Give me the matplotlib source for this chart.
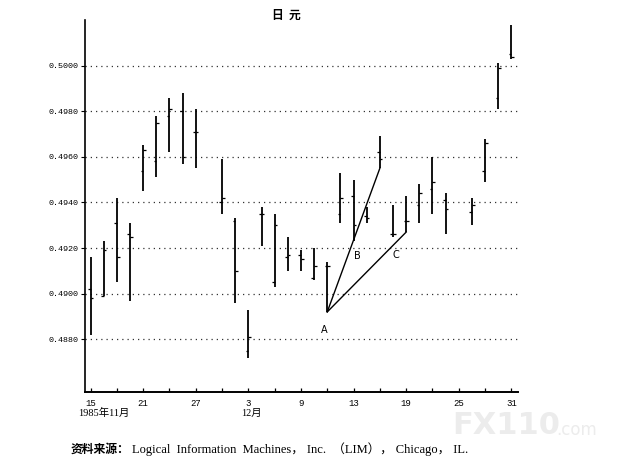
import numpy as np
import matplotlib.pyplot as plt

# trading-day slots (index along the x axis); 28 Nov and 25 Dec have no bar
tick_slots = [0, 4, 8, 12, 16, 20, 24, 28, 32]
tick_labels = ['15', '21', '27', '3', '9', '13', '19', '25', '31']

bar_slot = [0, 1, 2, 3, 4, 5, 6, 7, 8, 10, 11, 12, 13, 14, 15, 16,
            17, 18, 19, 20, 21, 22, 23, 24, 25, 26, 27, 29, 30, 31, 32]
highs = [4916, 4923, 4942, 4931, 4965, 4978, 4986, 4988, 4981, 4959, 4933,
         4893, 4938, 4935, 4925, 4919, 4920, 4914, 4953, 4950, 4938, 4969,
         4939, 4943, 4948, 4960, 4944, 4942, 4968, 5001, 5018]
lows = [4882, 4899, 4905, 4897, 4945, 4951, 4962, 4957, 4955, 4935, 4896,
        4872, 4921, 4903, 4910, 4910, 4906, 4892, 4931, 4923, 4931, 4955,
        4925, 4927, 4931, 4935, 4926, 4930, 4949, 4981, 5003]
opens = [4902, 4899, 4931, 4926, 4954, 4958, 4978, 4980, 4971, 4940, 4932,
         4875, 4935, 4905, 4916, 4917, 4907, 4912, 4935, 4943, 4934, 4962,
         4926, 4932, 4939, 4946, 4941, 4936, 4954, 4986, 5005]
closes = [4898, 4919, 4916, 4925, 4963, 4975, 4981, 4960, 4971, 4942, 4910,
          4881, 4935, 4930, 4917, 4915, 4912, 4912, 4942, 4930, 4933, 4959,
          4926, 4932, 4944, 4949, 4937, 4939, 4966, 4999, 5004]

x = np.array(bar_slot)
hi = np.array(highs) / 10000
lo = np.array(lows) / 10000
op = np.array(opens) / 10000
cl = np.array(closes) / 10000

yticks = [0.4880, 0.4900, 0.4920, 0.4940, 0.4960, 0.4980, 0.5000]

# trend lines: from A (low of 11 Dec) to lows of 17 Dec and 19 Dec
a_i = bar_slot.index(18)
b_i = bar_slot.index(22)
c_i = bar_slot.index(24)

mono = 'Liberation Mono'
serif_cjk = ['Liberation Serif', 'Noto Sans CJK SC']

fig = plt.figure(figsize=(6.22, 4.66), dpi=100)
ax = fig.add_axes([0.137, 0.1594, 0.695, 0.7976])

ax.vlines(x, lo, hi, color='black', lw=1.3)
ax.hlines(op, x - 0.2, x, color='black', lw=0.9)
ax.hlines(cl, x, x + 0.2, color='black', lw=0.9)

ax.plot([x[a_i], x[b_i]], [lo[a_i], lo[b_i]], color='black', lw=1.0)
ax.plot([x[a_i], x[c_i]], [lo[a_i], lo[c_i]], color='black', lw=1.0)
ax.text(x[a_i] - 0.2, 0.4884, 'A', fontsize=7, family='DejaVu Sans', ha='center', va='center')
ax.text(20.3, 0.49165, 'B', fontsize=7, family='DejaVu Sans', ha='center', va='center')
ax.text(23.25, 0.4917, 'C', fontsize=7, family='DejaVu Sans', ha='center', va='center')

ax.set_xlim(-0.41, 32.47)
ax.set_ylim(0.4857, 0.5020)

ax.set_yticks(yticks)
ax.set_yticklabels([f'{v:.4f}' for v in yticks], family=mono, fontsize=6)
ax.set_xticks(tick_slots)
ax.set_xticklabels(tick_labels, family=mono, fontsize=6.5)
ax.set_xticks(range(2, 32, 4), minor=True)
ax.tick_params(axis='y', direction='out', length=3, width=0.8, pad=2)
ax.tick_params(axis='x', which='both', direction='in', length=3, width=0.9, pad=5)

ax.grid(axis='y', color='#333333', linestyle=(0, (1, 3.2)), lw=0.9)
ax.set_axisbelow(True)
for s in ['top', 'right']:
    ax.spines[s].set_visible(False)
ax.spines['left'].set_linewidth(1.2)
ax.spines['bottom'].set_linewidth(1.4)

fig.text(286 / 622, 1 - 15 / 466, '日  元', family='Noto Sans CJK SC', fontsize=8.5,
         fontweight='bold', ha='center', va='center')
fig.text(104 / 622, 1 - 413 / 466, '1985年11月', family=serif_cjk, fontsize=7.5,
         ha='center', va='center')
fig.text(251 / 622, 1 - 413 / 466, '12月', family=serif_cjk, fontsize=7.5,
         ha='center', va='center')

fig.text(71 / 622, 1 - 449 / 466, '资料来源：', family='Noto Sans CJK SC', fontsize=8.5,
         fontweight='bold', ha='left', va='center')
fig.text(132 / 622, 1 - 449 / 466,
         'Logical  Information  Machines， Inc.  （LIM）， Chicago， IL.',
         family=serif_cjk, fontsize=9, ha='left', va='center')

fig.text(452 / 622, 1 - 426 / 466, 'FX110', family='DejaVu Sans', fontsize=22,
         fontweight='bold', color='#ececec', ha='left', va='center')
fig.text(556 / 622, 1 - 430 / 466, '.com', family='DejaVu Sans', fontsize=12,
         color='#ececec', ha='left', va='center')

fig.savefig('out.png', dpi=100)
